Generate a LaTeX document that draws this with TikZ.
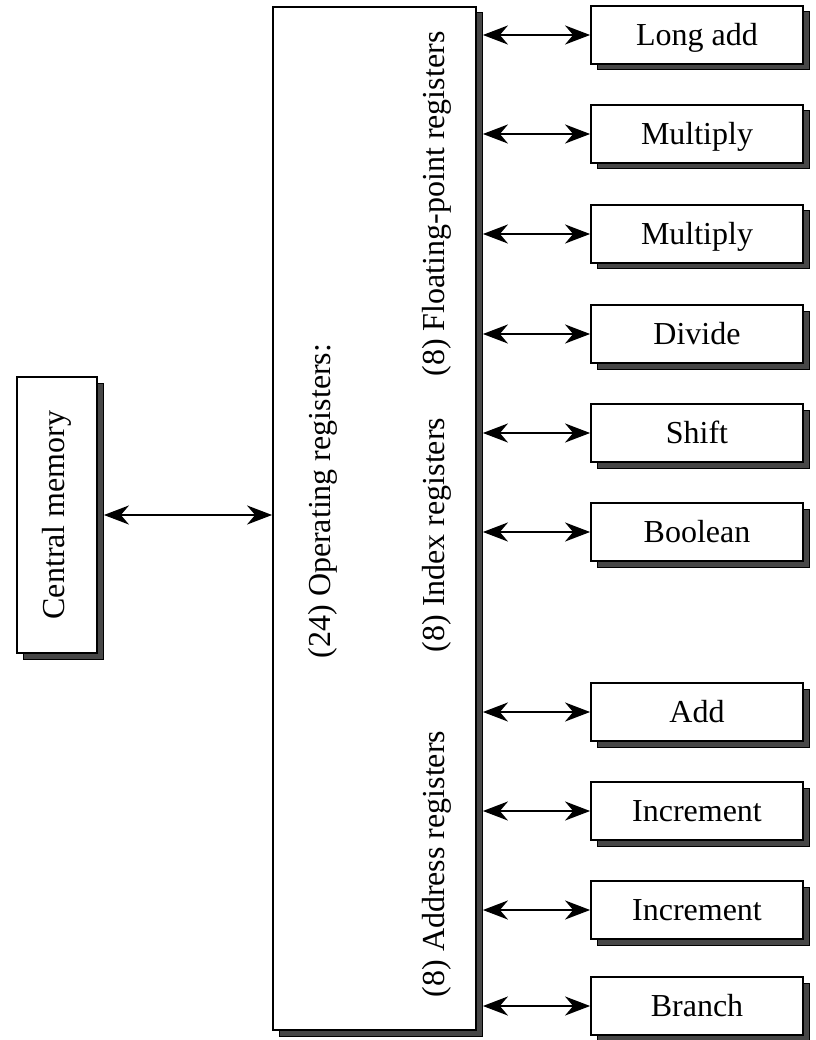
\documentclass[tikz,border=0pt]{standalone}
\usepackage{fontspec}
\setmainfont{Liberation Serif}
\usetikzlibrary{arrows.meta,shadows}
\begin{document}
\begin{tikzpicture}[x=1pt,y=-1pt,
  sbox/.style={draw=black, line width=1.8pt, fill=white, inner sep=0pt,
    drop shadow={shadow xshift=6pt, shadow yshift=-6pt, opacity=1, fill=black!72, draw=black, line width=1pt}},
  unit/.style={sbox, minimum width=212pt, minimum height=58pt, text height=21pt, text depth=0pt},
  lbl/.style={font=\fontsize{32}{38}\selectfont, rotate=90, inner sep=0pt},
  tip/.style={Stealth[length=25pt,width=19pt,inset=8pt]},
  biarrow/.style={line width=2.4pt, {Stealth[length=25pt,width=19pt,inset=8pt]}-{Stealth[length=25pt,width=19pt,inset=8pt]}},
  font=\fontsize{32}{38}\selectfont]
\useasboundingbox (0,0) rectangle (815,1040);
% central memory
\node[sbox, minimum width=80pt, minimum height=276pt] (cm) at (57,515) {};
\node[lbl] (cmt) at (57,515) {Central memory};
% operating registers box
\node[sbox, minimum width=203pt, minimum height=1023pt] (big) at (374.5,518.5) {};
\node[lbl] (op) at (323,501) {(24) Operating registers:};
\node[lbl] (fp) at (437,204) {(8) Floating-point registers};
\node[lbl] (idx) at (437,535) {(8) Index registers};
\node[lbl] (addr) at (437,864) {(8) Address registers};
% functional units
\node[unit] (u1) at (697,35) {Long add};
\node[unit] (u2) at (697,134) {Multiply};
\node[unit] (u3) at (697,234) {Multiply};
\node[unit] (u4) at (697,334) {Divide};
\node[unit] (u5) at (697,433) {Shift};
\node[unit] (u6) at (697,532) {Boolean};
\node[unit] (u7) at (697,712) {Add};
\node[unit] (u8) at (697,811) {Increment};
\node[unit] (u9) at (697,910) {Increment};
\node[unit] (u10) at (697,1006) {Branch};
% connectors
\coordinate (bus) at ([xshift=6pt]big.east);
\coordinate (cmr) at ([xshift=6pt]cm.east);
\draw[biarrow] (cmr) -- (cmr -| big.west);
\foreach \u in {u1,u2,u3,u4,u5,u6,u7,u8,u9,u10}
  \draw[biarrow] (\u.west -| bus) -- (\u.west);
\end{tikzpicture}
\end{document}
